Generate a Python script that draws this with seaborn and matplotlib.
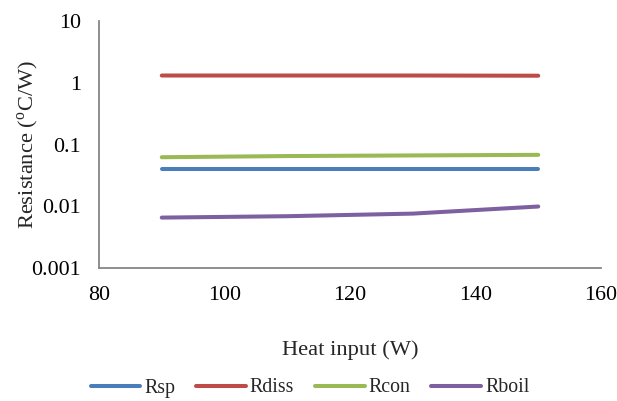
import matplotlib
matplotlib.use("Agg")
import matplotlib.pyplot as plt
import seaborn as sns
import pandas as pd

heat_input = [90, 110, 130, 150]
rsp = [0.0394, 0.0394, 0.0394, 0.0394]
rdiss = [1.31, 1.31, 1.31, 1.30]
rcon = [0.0622, 0.065, 0.0665, 0.068]
rboil = [0.00655, 0.0069, 0.0076, 0.0099]
series_names = ["Rsp", "Rdiss", "Rcon", "Rboil"]
colors = ["#4A7EBB", "#BE4B48", "#98B954", "#7D60A0"]

df = pd.DataFrame({
    "Heat input": heat_input * 4,
    "Resistance": rsp + rdiss + rcon + rboil,
    "Series": sum([[n] * len(heat_input) for n in series_names], []),
})

sns.set_style("white")
plt.rcParams['font.family'] = ['Liberation Serif', 'DejaVu Serif']
plt.rcParams['mathtext.fontset'] = 'custom'
plt.rcParams['mathtext.rm'] = 'Liberation Serif'

fig = plt.figure(figsize=(6.17, 4.01), dpi=100)
ax = fig.add_axes([99/617, 1-268/401, 502/617, 247/401])

sns.lineplot(data=df, x="Heat input", y="Resistance", hue="Series",
             palette=colors, hue_order=series_names, linewidth=2.9,
             ax=ax, legend=True, solid_capstyle="round")

ax.set_yscale("log")
ax.set_ylim(0.001, 10)
ax.set_xlim(80, 160)
ax.set_xticks([80, 100, 120, 140, 160])
ax.set_yticks([0.001, 0.01, 0.1, 1, 10])
ax.set_yticklabels(["0.001", "0.01", "0.1", "1", "10"])
ax.yaxis.set_minor_locator(matplotlib.ticker.NullLocator())

for s in ["top", "right"]:
    ax.spines[s].set_visible(False)
for s in ["left", "bottom"]:
    ax.spines[s].set_color("#868686")
    ax.spines[s].set_linewidth(1.3)
ax.tick_params(axis="both", which="major", direction="out", length=5, width=1.3,
               color="#868686", labelsize=15.8, labelcolor="black", pad=8)
ax.tick_params(axis="x", pad=8)

ax.set_xlabel("Heat input (W)", fontsize=16.2, labelpad=25)
ax.set_ylabel("Resistance ($^{\\mathregular{o}}$C/W)", fontsize=16.2, labelpad=-7)

handles, labels = ax.get_legend_handles_labels()
ax.legend(handles, labels, loc="center",
          bbox_to_anchor=(310/617, 1 - 388/401), bbox_transform=fig.transFigure,
          ncol=4, frameon=False, fontsize=14.3, handlelength=2.5, columnspacing=1.05,
          handletextpad=0.2, borderaxespad=0, borderpad=0)

fig.savefig("out.png", dpi=100)
